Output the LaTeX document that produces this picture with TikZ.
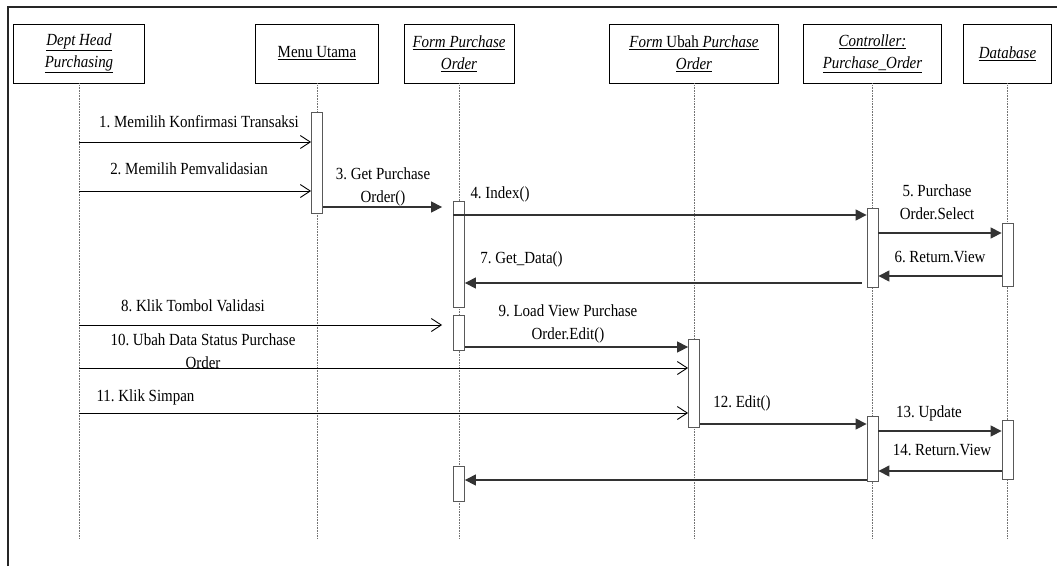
\documentclass[tikz,border=0pt]{standalone}
\usepackage{fontspec}
\setmainfont{Liberation Serif}[FakeStretch=0.88]
\usetikzlibrary{arrows.meta}
\frenchspacing

\begin{document}
\begin{tikzpicture}[x=1pt, y=-1pt,
    actor/.style={draw=black, line width=0.8pt, minimum height=59pt, align=center, inner sep=2pt, font=\fontsize{17}{22}\selectfont},
    act/.style={draw=black!65, fill=white, line width=0.8pt, minimum width=11pt, inner sep=0pt},
    lifeline/.style={draw=black!55, densely dotted, line width=0.6pt},
    call/.style={draw=black!80, line width=1.2pt, -{Triangle[length=11pt,width=11pt]}},
    send/.style={draw=black, line width=0.9pt, -{Straight Barb[length=10pt,width=13pt]}},
    lbl/.style={inner sep=0pt, text height=12pt, text depth=3.5pt, font=\fontsize{17}{23}\selectfont},
    lbltwo/.style={inner sep=0pt, align=center, font=\fontsize{17}{23}\selectfont}]
    \useasboundingbox (0,0) rectangle (1057,566);
    \draw[line width=1.5pt, black!85] (8,566) -- (8,7) -- (1057,7);

    % objects
    \node[actor, minimum width=131pt] (dept) at (79,53.5) {\underline{\textit{Dept Head}}\\\underline{\textit{Purchasing}}};
    \node[actor, minimum width=123pt] (menu) at (317,53.5) {\underline{Menu Utama}};
    \node[actor, minimum width=110pt] (fpo) at (459,53.5) {\underline{\textit{Form Purchase}}\\\underline{\textit{Order}}};
    \node[actor, minimum width=169pt] (fu) at (694,53.5) {\underline{\textit{Form} Ubah \textit{Purchase}}\\\underline{\textit{Order}}};
    \node[actor, minimum width=138pt] (ctrl) at (872.5,53.5) {\underline{\textit{Controller:}}\\\underline{\textit{Purchase\_Order}}};
    \node[actor, minimum width=88pt] (db) at (1007.5,53.5) {\underline{\textit{Database}}};

    \foreach \n in {dept,menu,fpo,fu,ctrl,db}
        \draw[lifeline] (\n.south) -- (\n.south |- 0,539);

    % activations
    \node[act, minimum height=101pt] (menuact) at (menu |- 0,162.5) {};
    \node[act, minimum height=106pt] (fpoact1) at (fpo |- 0,254) {};
    \node[act, minimum height=35pt] (fpoact2) at (fpo |- 0,332.5) {};
    \node[act, minimum height=35pt] (fpoact3) at (fpo |- 0,483.5) {};
    \node[act, minimum height=88pt] (fuact) at (fu |- 0,383) {};
    \node[act, minimum height=79pt] (ctrlact1) at (ctrl |- 0,247.5) {};
    \node[act, minimum height=65pt] (ctrlact2) at (ctrl |- 0,448.5) {};
    \node[act, minimum height=63pt] (dbact1) at (db |- 0,254.5) {};
    \node[act, minimum height=59pt] (dbact2) at (db |- 0,449.5) {};

    % messages
    \draw[send] (dept |- 0,142) -- (menuact.west |- 0,142);
    \node[lbl] (l1) at (199,123) {1. Memilih Konfirmasi Transaksi};
    \draw[send] (dept |- 0,191) -- (menuact.west |- 0,191);
    \node[lbl] (l2) at (189,170) {2. Memilih Pemvalidasian};
    \draw[call, shorten >=11pt] (menuact.east |- 0,207) -- (fpoact1.west |- 0,207);
    \node[lbltwo] (l3) at (383,186.5) {3. Get Purchase\\Order()};
    \draw[call] (fpoact1.west |- 0,215) -- (ctrlact1.west |- 0,215);
    \node[lbl] (l4) at (500,194) {4. Index()};
    \draw[call] (ctrlact1.east |- 0,233) -- (dbact1.west |- 0,233);
    \node[lbltwo] (l5) at (937,202.5) {5. Purchase\\Order.Select};
    \draw[call] (dbact1.west |- 0,276) -- (ctrlact1.east |- 0,276);
    \node[lbl] (l6) at (940,258) {6. Return.View};
    \draw[call, shorten <=5pt] (ctrlact1.west |- 0,283) -- (fpoact1.east |- 0,283);
    \node[lbl] (l7) at (521.5,259) {7. Get\_Data()};
    \draw[send, shorten >=11pt] (dept |- 0,325) -- (fpoact2.west |- 0,325);
    \node[lbl] (l8) at (193,307) {8. Klik Tombol Validasi};
    \draw[call] (fpoact2.east |- 0,347) -- (fuact.west |- 0,347);
    \node[lbltwo] (l9) at (568,323.5) {9. Load View Purchase\\Order.Edit()};
    \draw[send] (dept |- 0,368) -- (fuact.west |- 0,368);
    \node[lbltwo] (l10) at (203,351) {10. Ubah Data Status Purchase\\Order};
    \draw[send] (dept |- 0,413) -- (fuact.west |- 0,413);
    \node[lbl] (l11) at (145.5,397) {11. Klik Simpan};
    \draw[call] (fuact.east |- 0,424) -- (ctrlact2.west |- 0,424);
    \node[lbl] (l12) at (742,403) {12. Edit()};
    \draw[call] (ctrlact2.east |- 0,431) -- (dbact2.west |- 0,431);
    \node[lbl] (l13) at (929,413) {13. Update};
    \draw[call] (dbact2.west |- 0,471) -- (ctrlact2.east |- 0,471);
    \node[lbl] (l14) at (942,451) {14. Return.View};
    \draw[call] (ctrlact2.west |- 0,480) -- (fpoact3.east |- 0,480);
\end{tikzpicture}
\end{document}
